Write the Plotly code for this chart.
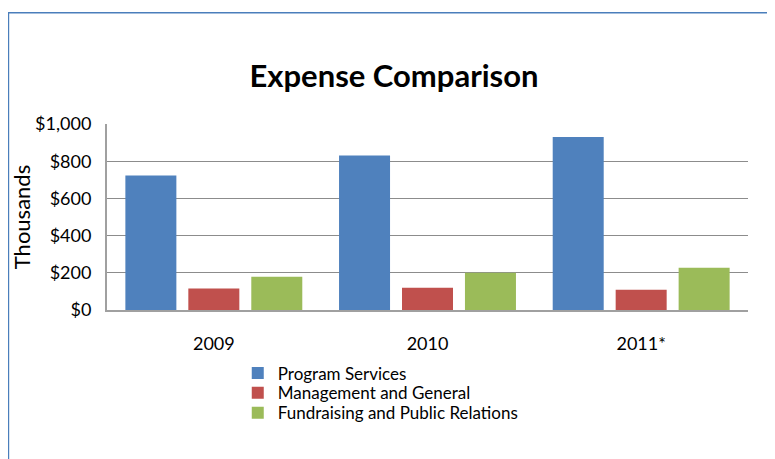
import plotly.graph_objects as go

years = ["2009", "2010", "2011*"]
program_services = [723, 830, 930]
management_general = [115, 120, 109]
fundraising_pr = [179, 200, 227]

series_names = ["Program Services", "Management and General", "Fundraising and Public Relations"]
series_colors = ["#4F81BD", "#C0504D", "#9BBB59"]
y_ticks = [0, 200, 400, 600, 800, 1000]
y_tick_labels = ["$0", "$200", "$400", "$600", "$800", "$1,000"]

FONT = "Lato, Calibri, Arial, sans-serif"

# the page body adds an 8px offset; figure coordinates = page coordinates - OFF
OFF = 8
W, H = 775 - OFF, 459 - OFF
# plot area in page pixels
PL, PR, PT, PB = 107.3, 748, 124, 310.5
L, R, T, B = PL - OFF, W - (PR - OFF), PT - OFF, H - (PB - OFF)
pw = W - L - R
ph = H - T - B


def px_x(px):
    return (px - OFF - L) / pw


def px_y(py):
    return (H - B - (py - OFF)) / ph


fig = go.Figure()
legend_ids = ["legend", "legend2", "legend3"]
for name, vals, col, lg in zip(series_names, [program_services, management_general, fundraising_pr],
                               series_colors, legend_ids):
    fig.add_trace(go.Bar(x=years, y=vals, name=name, legend=lg,
                         marker=dict(color=col, line=dict(width=0))))

legend_rows = [374, 394, 414]
legend_x = 238
legend_common = dict(xanchor="left", yanchor="middle", orientation="v",
                     font=dict(family=FONT, size=17, color="#000000"),
                     bgcolor="rgba(0,0,0,0)", itemwidth=30, borderwidth=0)

fig.update_layout(
    width=W, height=H,
    margin=dict(l=L, r=R, t=T, b=B, autoexpand=False),
    paper_bgcolor="white", plot_bgcolor="white",
    font=dict(family=FONT, size=18, color="#000000"),
    title=dict(text="<b>Expense Comparison</b>", x=(394 - OFF) / W, xanchor="center",
               y=1 - (76 - OFF) / H, yanchor="middle",
               font=dict(family=FONT, size=31, color="#000000")),
    barmode="group", bargap=0.116, bargroupgap=0.19,
    showlegend=True,
    legend=dict(x=px_x(legend_x), y=px_y(legend_rows[0]), **legend_common),
    legend2=dict(x=px_x(legend_x), y=px_y(legend_rows[1]), **legend_common),
    legend3=dict(x=px_x(legend_x), y=px_y(legend_rows[2]), **legend_common),
    xaxis=dict(showgrid=False, showline=True, linecolor="#A0A0A0", linewidth=2,
               ticks="", ticklabelstandoff=16, tickfont=dict(family=FONT, size=18)),
    yaxis=dict(range=[0, 1000], tickvals=y_ticks, ticktext=y_tick_labels,
               showgrid=True, gridcolor="#8C8C8C", gridwidth=1,
               showline=True, linecolor="#A0A0A0", linewidth=2,
               ticks="", ticklabelstandoff=10, zeroline=False,
               tickfont=dict(family=FONT, size=18),
               title=dict(text="Thousands", standoff=0, font=dict(family=FONT, size=22))),
    shapes=[dict(type="rect", xref="paper", yref="paper",
                 x0=px_x(8.8), x1=px_x(800),
                 y0=px_y(490), y1=px_y(12.5),
                 line=dict(color="#4A7EBB", width=1.5), fillcolor="rgba(0,0,0,0)", layer="below")],
)

fig.write_html("out.html")
